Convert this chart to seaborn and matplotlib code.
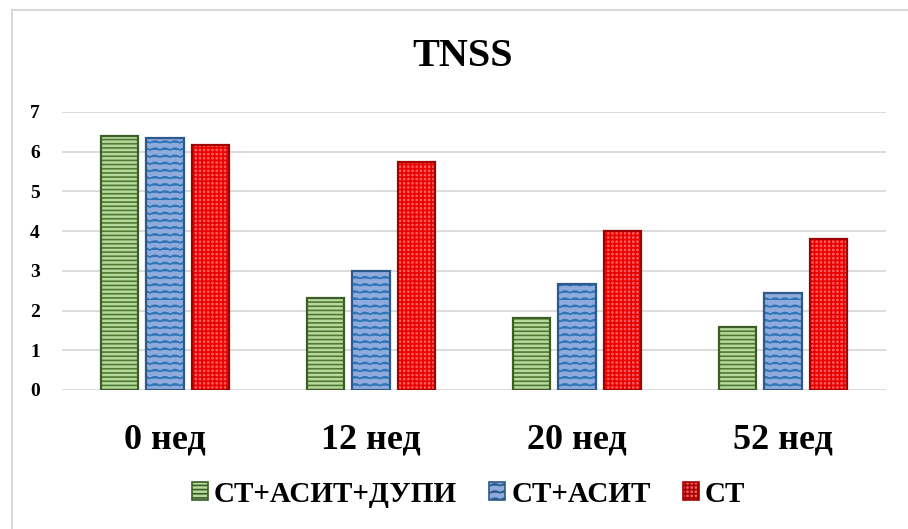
import numpy as np
import pandas as pd
import matplotlib
matplotlib.use("Agg")
import matplotlib.pyplot as plt
import matplotlib.hatch as mhatch
from matplotlib.path import Path
from matplotlib.patches import Rectangle, Patch
import seaborn as sns

# data
weeks = ["0 нед", "12 нед", "20 нед", "52 нед"]
groups = ["СТ+АСИТ+ДУПИ", "СТ+АСИТ", "СТ"]
tnss_full = [6.4, 2.32, 1.81, 1.59]      # СТ+АСИТ+ДУПИ
tnss_asit = [6.35, 3.0, 2.66, 2.43]      # СТ+АСИТ
tnss_st = [6.18, 5.74, 4.0, 3.8]         # СТ

fills = ["#b7d89f", "#8faadc", "#ff5c5c"]
hatch_cols = ["#4f7a31", "#2e75b6", "#e80000"]
edges = ["#3b5e26", "#2c5a8c", "#a30000"]
hatches = ["----", "OO", "++++"]


# wavy hatch (reuses the 'O' letter, big circles are not needed here)
class WaveHatch(mhatch.HatchPatternBase):
    def __init__(self, hatch, density):
        self.rows = hatch.count("O") * 7
        self.waves = 10
        self.pts = self.waves * 8 + 1
        self.num_vertices = self.rows * self.pts

    def set_vertices_and_codes(self, vertices, codes):
        xs = np.linspace(0.0, 1.0, self.pts)
        ys = np.linspace(0.0, 1.0, self.rows, endpoint=False)
        for i, y0 in enumerate(ys):
            sl = slice(i * self.pts, (i + 1) * self.pts)
            vertices[sl, 0] = xs
            vertices[sl, 1] = y0 + 0.018 * np.abs(np.sin(np.pi * self.waves * xs))
            codes[sl] = Path.LINETO
            codes[i * self.pts] = Path.MOVETO


mhatch._hatch_types = [t for t in mhatch._hatch_types
                       if t is not mhatch.LargeCircles] + [WaveHatch]

df = pd.DataFrame({
    "week": weeks * 3,
    "group": [g for g in groups for _ in weeks],
    "tnss": tnss_full + tnss_asit + tnss_st,
})

sns.set_style("white")
plt.rcParams["font.family"] = ["Liberation Serif", "DejaVu Serif"]
plt.rcParams["font.weight"] = "bold"
plt.rcParams["text.color"] = "black"
plt.rcParams["xtick.color"] = "black"
plt.rcParams["ytick.color"] = "black"
plt.rcParams["hatch.linewidth"] = 1.2

fig = plt.figure(figsize=(9.08, 5.29), dpi=100)
ax = fig.add_axes([62 / 908, 1 - 390 / 529, 824 / 908, 278 / 529])

sns.barplot(data=df, x="week", y="tnss", hue="group", hue_order=groups,
            palette=fills, width=0.663, gap=0.167, saturation=1,
            legend=False, ax=ax)

for cont, hc, ec, h in zip(ax.containers, hatch_cols, edges, hatches):
    for p in cont:
        p.set_hatch(h)
        p.set_edgecolor(hc)
        p.set_linewidth(0)
        ax.add_patch(Rectangle(p.get_xy(), p.get_width(), p.get_height(),
                               fill=False, ec=ec, lw=1.6, zorder=3))

ax.set_ylim(0, 7)
ax.set_yticks(range(0, 8))
ax.grid(axis="y", color="#d9d9d9", lw=1.3)
ax.set_axisbelow(True)
sns.despine(ax=ax, left=True, bottom=True)
ax.set_xlabel("")
ax.set_ylabel("")
ax.tick_params(axis="y", length=0, pad=16, labelsize=14)
ax.tick_params(axis="x", length=0, pad=24, labelsize=26)

fig.text(463 / 908, 1 - 56 / 529, "TNSS", ha="center", va="center",
         fontsize=29, fontweight="bold")

handles = [Patch(facecolor=f, edgecolor=e, hatch=h, lw=1.2)
           for f, e, h in zip(fills, edges, hatches)]
fig.legend(handles, groups, loc="center", bbox_to_anchor=(0.516, 0.066),
           ncol=3, frameon=False, prop={"size": 21, "weight": "bold"},
           handlelength=0.55, handleheight=0.55, handletextpad=0.2,
           columnspacing=1.1)

fig.add_artist(Rectangle((12 / 908, -0.1), 1.2, 1.1 - 10 / 529,
                         transform=fig.transFigure, fill=False,
                         ec="#d9d9d9", lw=1.5))

fig.savefig("out.png", dpi=100)
